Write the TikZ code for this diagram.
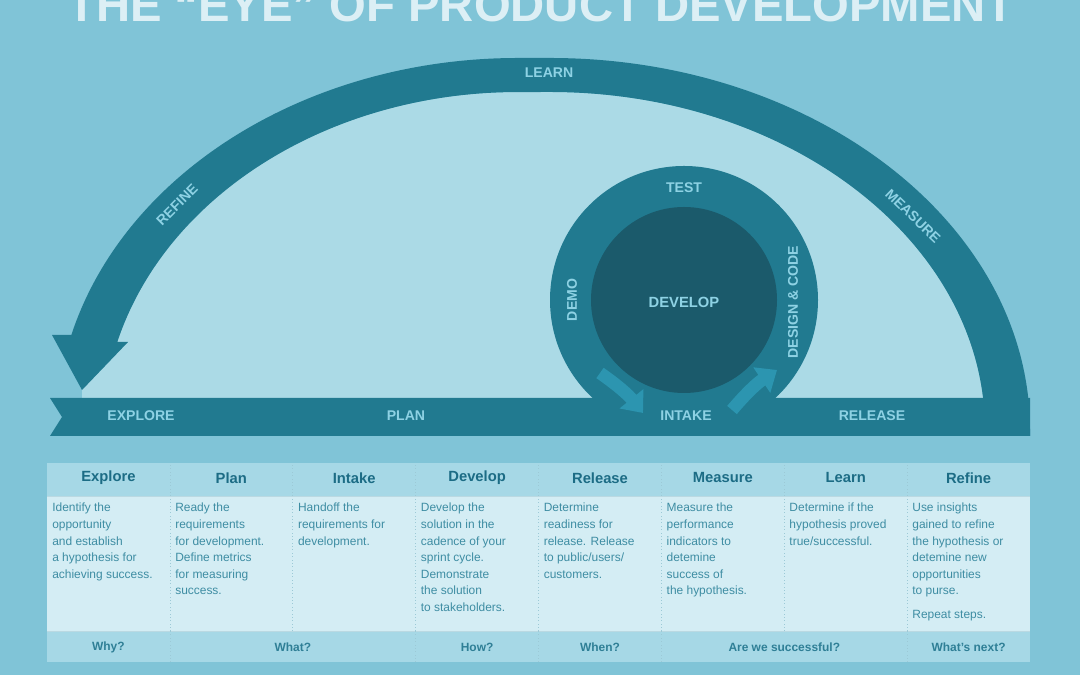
\documentclass[tikz,border=0pt]{standalone}
\usepackage{fontspec}
\setmainfont{Liberation Sans}
\usepackage{xcolor}
\usetikzlibrary{arrows.meta}
\definecolor{EyeBack}{HTML}{80C4D7}
\definecolor{EyeLight}{HTML}{ABDAE6}
\definecolor{EyeTeal}{HTML}{217A90}
\definecolor{EyeDeep}{HTML}{1B5A6B}
\definecolor{EyeText}{HTML}{8ED2E4}
\definecolor{EyeFlow}{HTML}{2C95B0}
\definecolor{EyeTitle}{HTML}{DCEFF5}
\definecolor{EyeHead}{HTML}{A6D8E6}
\definecolor{EyeCell}{HTML}{D4EDF4}
\definecolor{EyeRule}{HTML}{9CC9D6}
\definecolor{EyeHeadText}{HTML}{1C6C85}
\definecolor{EyeCellText}{HTML}{3E8DA3}
\definecolor{EyeFootText}{HTML}{2F7F96}

\begin{document}
\begin{tikzpicture}[x=0.025cm,y=0.025cm,
  bandlabel/.style={text=EyeText,font=\bfseries\fontsize{10}{12}\selectfont,inner sep=0},
  headlabel/.style={text=EyeHeadText,font=\bfseries\fontsize{10.5}{12}\selectfont,inner sep=0},
  footlabel/.style={text=EyeFootText,font=\bfseries\fontsize{8.5}{10}\selectfont,inner sep=0},
  celltext/.style={anchor=north west,align=left,inner sep=0,text=EyeCellText,font=\fontsize{8.5}{11.8}\selectfont},
  flow/.style={EyeFlow,line width=9pt,-{Triangle[length=13pt,width=21pt]}}]
\path[use as bounding box] (0,0) rectangle (1080,675);
\fill[EyeBack] (0,0) rectangle (1080,675);
\node[anchor=base,inner sep=0,text=EyeTitle,font=\bfseries\fontsize{33.6}{36}\selectfont] (title) at (541,653) {THE “EYE” OF PRODUCT DEVELOPMENT};

\fill[EyeLight] (82,276) -- (82,285) -- (128,333) -- (117.3,333)
  arc[start angle=164.9,end angle=90,x radius=415,y radius=338] -- (550,583)
  arc[start angle=90,end angle=0,x radius=435,y radius=338] -- (985,276) -- cycle;
\fill[EyeTeal] (1030,239) -- (1030,245)
  arc[start angle=0,end angle=90,x radius=480,y radius=372] -- (518,617)
  arc[start angle=90,end angle=165.2,x radius=462,y radius=372]
  -- (52,340) -- (82,285) -- (128,333) -- (117.3,333)
  arc[start angle=164.9,end angle=90,x radius=415,y radius=338] -- (550,583)
  arc[start angle=90,end angle=0,x radius=435,y radius=338] -- (985,239) -- cycle;

\fill[EyeTeal] (684,375) circle[radius=134];
\fill[EyeDeep] (684,375) circle[radius=93];
\fill[EyeTeal] (50,277) -- (1030,277) -- (1030,239) -- (50,239) -- (62,258) -- cycle;

\coordinate (demo-out) at (600,302);
\coordinate (demo-in) at (643,262);
\coordinate (code-out) at (732,265);
\coordinate (code-in) at (777,305);
\draw[flow] (demo-out) to[bend left=8] (demo-in);
\draw[flow] (code-out) to[bend left=8] (code-in);

\node[bandlabel] (learn) at (549,602) {LEARN};
\node[bandlabel,rotate=45] (refine) at (177,470) {REFINE};
\node[bandlabel,rotate=-44] (measure) at (913,459) {MEASURE};
\node[bandlabel] (explore) at (141,259) {EXPLORE};
\node[bandlabel] (plan) at (406,259) {PLAN};
\node[bandlabel] (intake) at (686,259) {INTAKE};
\node[bandlabel] (release) at (872,259) {RELEASE};
\node[bandlabel] (test) at (684,487) {TEST};
\node[bandlabel,rotate=90] (demo) at (572,375) {DEMO};
\node[bandlabel,rotate=90] (design) at (793,373) {DESIGN \& CODE};
\node[bandlabel,font=\bfseries\fontsize{10.5}{12}\selectfont] (develop) at (684,373) {DEVELOP};

\fill[EyeHead] (47,179) rectangle (1030,212);
\fill[EyeCell] (47,44) rectangle (1030,179);
\fill[EyeHead] (47,13) rectangle (1030,44);
\draw[EyeRule!70] (47,179) -- (1030,179);
\draw[EyeRule!70] (47,44) -- (1030,44);
\foreach \k in {1,...,7}
  \draw[EyeRule,dotted] ({47+122.875*\k},44) -- ({47+122.875*\k},212);
\foreach \k in {1,3,4,5,7}
  \draw[EyeRule,dotted] ({47+122.875*\k},13) -- ({47+122.875*\k},44);

\node[headlabel] (h-explore) at (108.4,197) {Explore};
\node[headlabel] (h-plan) at (231.3,197) {Plan};
\node[headlabel] (h-intake) at (354.2,197) {Intake};
\node[headlabel] (h-develop) at (477.1,197) {Develop};
\node[headlabel] (h-release) at (600,197) {Release};
\node[headlabel] (h-measure) at (722.8,197) {Measure};
\node[headlabel] (h-learn) at (845.7,197) {Learn};
\node[headlabel] (h-refine) at (968.6,197) {Refine};

\node[celltext] (c-explore) at (52,172) {Identify the\\opportunity\\and establish\\a hypothesis for\\achieving success.};
\node[celltext] (c-plan) at (175,172) {Ready the\\requirements\\for development.\\Define metrics\\for measuring\\success.};
\node[celltext] (c-intake) at (297.8,172) {Handoff the\\requirements for\\development.};
\node[celltext] (c-develop) at (420.6,172) {Develop the\\solution in the\\cadence of your\\sprint cycle.\\Demonstrate\\the solution\\to stakeholders.};
\node[celltext] (c-release) at (543.5,172) {Determine\\readiness for\\release. Release\\to public/users/\\customers.};
\node[celltext] (c-measure) at (666.4,172) {Measure the\\performance\\indicators to\\detemine\\success of\\the hypothesis.};
\node[celltext] (c-learn) at (789.2,172) {Determine if the\\hypothesis proved\\true/successful.};
\node[celltext] (c-refine) at (912.1,172) {Use insights\\gained to refine\\the hypothesis or\\detemine new\\opportunities\\to purse.\\[5pt]Repeat steps.};

\node[footlabel] (f-why) at (108.4,28) {Why?};
\node[footlabel] (f-what) at (292.8,28) {What?};
\node[footlabel] (f-how) at (477.1,28) {How?};
\node[footlabel] (f-when) at (600,28) {When?};
\node[footlabel] (f-success) at (784.3,28) {Are we successful?};
\node[footlabel] (f-next) at (968.6,28) {What's next?};
\end{tikzpicture}
\end{document}
